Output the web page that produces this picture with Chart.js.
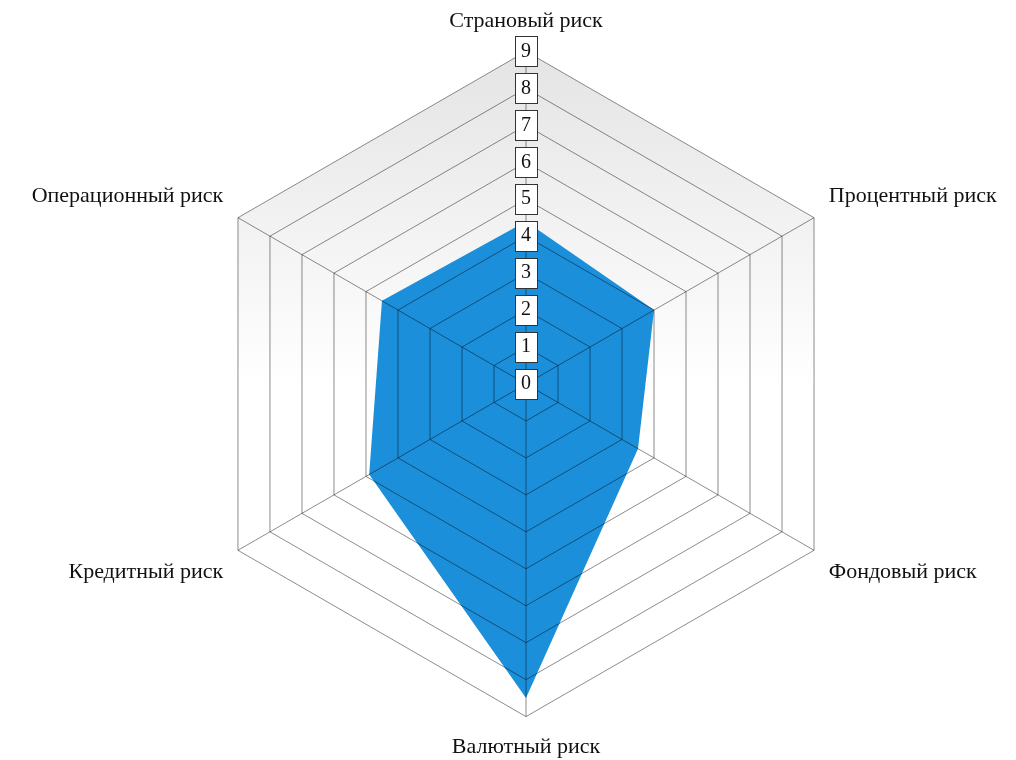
<!DOCTYPE html>
<html>
<head>
<meta charset="utf-8">
<script src="https://cdn.jsdelivr.net/npm/chart.js@4"></script>
<style>
  html, body { margin: 0; padding: 0; background: #fff; }
</style>
</head>
<body>
<canvas id="risk-chart" width="1016" height="760"></canvas>
<script>
// risk categories, clockwise from the top
const riskNames = [
  "Страновый риск",
  "Процентный риск",
  "Фондовый риск",
  "Валютный риск",
  "Кредитный риск",
  "Операционный риск"
];
const riskValues = [4.4, 4, 3.5, 8.5, 4.9, 4.5];
const scaleMin = 0;
const scaleMax = 9;

const serif = "'Liberation Serif', 'Times New Roman', serif";

// light grey gradient behind the web (top grey -> white at the middle)
const webBackground = {
  id: "webBackground",
  beforeDatasetsDraw(chart) {
    const r = chart.scales.r;
    const ctx = chart.ctx;
    const grad = ctx.createLinearGradient(0, r.yCenter - r.drawingArea, 0, r.yCenter);
    grad.addColorStop(0, "#e4e4e4");
    grad.addColorStop(1, "#ffffff");
    ctx.save();
    ctx.beginPath();
    for (let i = 0; i < riskNames.length; i++) {
      const p = r.getPointPositionForValue(i, scaleMax);
      if (i === 0) ctx.moveTo(p.x, p.y); else ctx.lineTo(p.x, p.y);
    }
    ctx.closePath();
    ctx.fillStyle = grad;
    ctx.fill();
    ctx.restore();
  }
};

// thin frame around each tick label (same box as the chart.js backdrop);
// chart.js skips the "0" at the centre, so it is added here too
const tickFrames = {
  id: "tickFrames",
  afterDraw(chart) {
    const r = chart.scales.r;
    const ctx = chart.ctx;
    const t = r.options.ticks;
    const size = t.font.size;
    const padX = t.backdropPadding.x;
    const padY = t.backdropPadding.y;
    ctx.save();
    ctx.font = size + "px " + serif;
    ctx.strokeStyle = "#333";
    ctx.lineWidth = 1;
    r.ticks.forEach(tick => {
      const off = r.getDistanceFromCenterForValue(tick.value);
      const w = ctx.measureText(tick.label).width;
      const x = Math.round(r.xCenter - w / 2 - padX) + 0.5;
      const y = Math.round(r.yCenter - off - size / 2 - padY) + 0.5;
      const bw = Math.round(w + padX * 2);
      const bh = Math.round(size + padY * 2);
      if (tick.value === scaleMin) {
        ctx.fillStyle = "#ffffff";
        ctx.fillRect(x, y, bw, bh);
        ctx.fillStyle = t.color;
        ctx.textAlign = "center";
        ctx.textBaseline = "middle";
        ctx.fillText(tick.label, r.xCenter, r.yCenter - off);
      }
      ctx.strokeRect(x, y, bw, bh);
    });
    ctx.restore();
  }
};

new Chart(document.getElementById("risk-chart"), {
  type: "radar",
  data: {
    labels: riskNames,
    datasets: [{
      data: riskValues,
      backgroundColor: "#1c8fdb",
      borderWidth: 0,
      pointRadius: 0,
      fill: true
    }]
  },
  options: {
    responsive: false,
    animation: false,
    layout: { padding: { top: 8, bottom: -21, left: 14, right: -40 } },
    plugins: {
      legend: { display: false },
      tooltip: { enabled: false }
    },
    scales: {
      r: {
        min: scaleMin,
        max: scaleMax,
        beginAtZero: true,
        border: { display: false },
        grid: { color: "rgba(0,0,0,0.45)", lineWidth: 1, z: 1 },
        angleLines: { color: "rgba(0,0,0,0.45)", lineWidth: 1 },
        pointLabels: {
          color: "#111",
          padding: 2,
          font: { family: serif, size: 22 }
        },
        ticks: {
          z: 1,
          stepSize: 1,
          color: "#111",
          font: { family: serif, size: 20 },
          showLabelBackdrop: true,
          backdropColor: "#ffffff",
          backdropPadding: { x: 6, y: 5 }
        }
      }
    }
  },
  plugins: [webBackground, tickFrames]
});
</script>
</body>
</html>
